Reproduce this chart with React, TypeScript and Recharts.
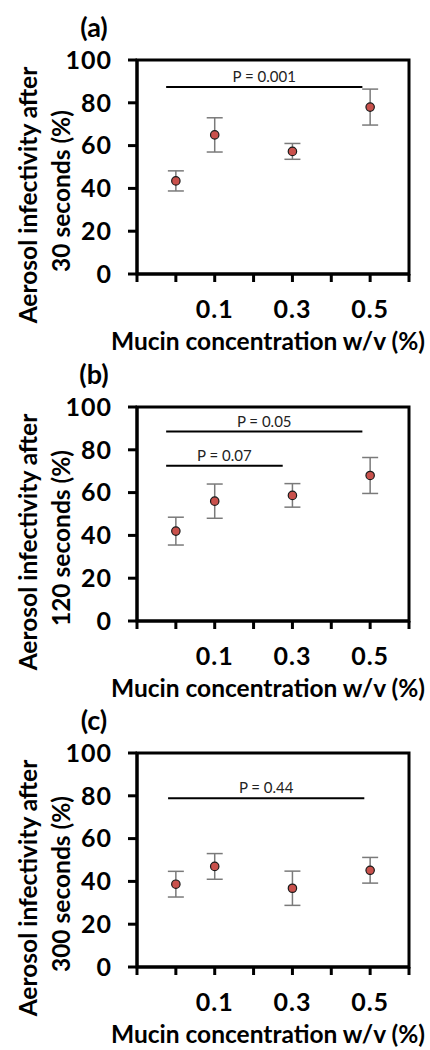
import React from "react";
import {
  ScatterChart,
  Scatter,
  XAxis,
  YAxis,
  ErrorBar,
  ReferenceLine,
  ReferenceArea,
} from "recharts";

// Mucin concentration (w/v %) of each sample
const concentrations = [0, 0.1, 0.3, 0.5];

// Aerosol infectivity (%) and error after each time point
const infect30 = [43.5, 65, 57.3, 78];
const err30 = [4.7, 8, 3.7, 8.4];
const infect120 = [42, 56, 58.7, 68];
const err120 = [6.5, 8, 5.5, 8.4];
const infect300 = [38.7, 47, 36.8, 45.2];
const err300 = [6, 6, 8, 6];

// significance bars: from x, to x, height, text
const sig30 = [{ from: -0.025, to: 0.48, y: 87.4, label: "P = 0.001" }];
const sig120 = [
  { from: -0.025, to: 0.48, y: 88.5, label: "P = 0.05" },
  { from: -0.025, to: 0.275, y: 72.6, label: "P = 0.07" },
];
const sig300 = [{ from: -0.02, to: 0.485, y: 78.8, label: "P = 0.44" }];

const xTicks = [-0.1, 0, 0.1, 0.2, 0.3, 0.4, 0.5, 0.6];
const xTickLabels = ["0.1", "0.3", "0.5"];
const yTicks = [0, 20, 40, 60, 80, 100];

const FONT = "Lato, 'Open Sans', sans-serif";

interface SigBar {
  from: number;
  to: number;
  y: number;
  label: string;
}

interface PanelProps {
  tag: string;
  seconds: string;
  values: number[];
  errors: number[];
  sigBars: SigBar[];
}

const XTick = (props: any) => {
  const { x, y, payload } = props;
  const txt = Number(payload.value).toFixed(1);
  if (!xTickLabels.includes(txt)) return null;
  return (
    <text
      x={x}
      y={y + 24}
      textAnchor="middle"
      dominantBaseline="central"
      fontFamily={FONT}
      fontWeight={700}
      fontSize={25}
      letterSpacing={1}
      fill="#000"
    >
      {txt}
    </text>
  );
};

const Panel: React.FC<PanelProps> = ({ tag, seconds, values, errors, sigBars }) => {
  const data = concentrations.map((c, i) => ({ x: c, y: values[i], err: errors[i] }));

  // panel tag and the two-line y title
  const yTitle = (props: any) => {
    const vb = props.viewBox ?? { x: 0, y: 60 };
    const cx1 = vb.x + 27;
    const cx2 = vb.x + 60;
    const cy1 = vb.y + 135;
    const cy2 = vb.y + 131;
    return (
      <g fontFamily={FONT} fontWeight={700} fill="#000">
        <text x={vb.x + 94} y={vb.y - 34} textAnchor="middle" dominantBaseline="central" fontSize={27}>
          {tag}
        </text>
        <text
          x={cx1}
          y={cy1}
          transform={`rotate(-90 ${cx1} ${cy1})`}
          textAnchor="middle"
          dominantBaseline="central"
          fontSize={24.5}
        >
          Aerosol infectivity after
        </text>
        <text
          x={cx2}
          y={cy2}
          transform={`rotate(-90 ${cx2} ${cy2})`}
          textAnchor="middle"
          dominantBaseline="central"
          fontSize={24.5}
        >
          {seconds} seconds (%)
        </text>
      </g>
    );
  };

  const xTitle = (props: any) => {
    const vb = props.viewBox ?? { x: 137, y: 274 };
    return (
      <text
        x={vb.x + 131}
        y={vb.y + 66}
        textAnchor="middle"
        dominantBaseline="central"
        fontFamily={FONT}
        fontWeight={700}
        fontSize={24.5}
        fill="#000"
      >
        Mucin concentration w/v (%)
      </text>
    );
  };

  return (
    <ScatterChart width={430} height={360} margin={{ top: 60, right: 21, bottom: 13, left: 0 }}>
      <XAxis
        type="number"
        dataKey="x"
        domain={[-0.1, 0.6]}
        ticks={xTicks}
        height={73}
        tickSize={8}
        axisLine={{ stroke: "#000", strokeWidth: 3 }}
        tickLine={{ stroke: "#000", strokeWidth: 3 }}
        tick={<XTick />}
        interval={0}
        label={{ content: xTitle }}
      />
      <YAxis
        type="number"
        dataKey="y"
        domain={[0, 100]}
        ticks={yTicks}
        width={137}
        tickSize={9}
        tickMargin={16}
        interval={0}
        axisLine={{ stroke: "#000", strokeWidth: 3 }}
        tickLine={{ stroke: "#000", strokeWidth: 3 }}
        tick={{ fill: "#000", fontSize: 25, fontWeight: 700, fontFamily: FONT, letterSpacing: 1 }}
        label={{ content: yTitle }}
      />
      <ReferenceArea
        x1={-0.1}
        x2={0.6}
        y1={0}
        y2={100}
        fill="none"
        fillOpacity={0}
        stroke="#000"
        strokeWidth={3}
        strokeOpacity={1}
      />
      {sigBars.map((b) => (
        <ReferenceLine
          key={b.label}
          segment={[
            { x: b.from, y: b.y },
            { x: b.to, y: b.y },
          ]}
          stroke="#000"
          strokeWidth={2}
          label={{
            value: b.label,
            position: "top",
            offset: 5,
            fill: "#222",
            fontSize: 15,
            fontFamily: FONT,
          }}
        />
      ))}
      <Scatter
        data={data}
        isAnimationActive={false}
        shape={(p: any) => (
          <circle cx={p.cx} cy={p.cy} r={4.2} fill="#c9514c" stroke="#1a1a1a" strokeWidth={1.2} />
        )}
      >
        <ErrorBar dataKey="err" direction="y" width={8} stroke="#7a7a7a" strokeWidth={1.5} />
      </Scatter>
    </ScatterChart>
  );
};

export default function App() {
  return (
    <div style={{ position: "absolute", left: 0, top: 0, width: 430, height: 1050, background: "#fff" }}>
      <div style={{ position: "absolute", left: 0, top: 0 }}>
        <Panel tag="(a)" seconds="30" values={infect30} errors={err30} sigBars={sig30} />
      </div>
      <div style={{ position: "absolute", left: 0, top: 347 }}>
        <Panel tag="(b)" seconds="120" values={infect120} errors={err120} sigBars={sig120} />
      </div>
      <div style={{ position: "absolute", left: 0, top: 693 }}>
        <Panel tag="(c)" seconds="300" values={infect300} errors={err300} sigBars={sig300} />
      </div>
    </div>
  );
}
